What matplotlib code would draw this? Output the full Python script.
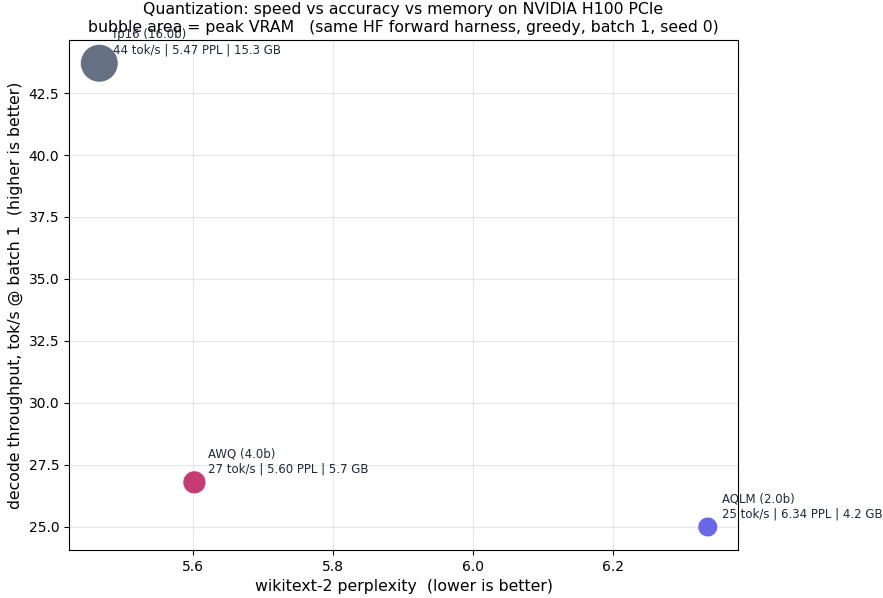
import matplotlib
matplotlib.use("Agg")
import matplotlib.pyplot as plt

# per-method results
names = ["fp16 (16.0b)", "AWQ (4.0b)", "AQLM (2.0b)"]
ppl = [5.466, 5.602, 6.336]
toks = [43.7, 26.8, 25.0]
vram = [15.3, 5.7, 4.2]
colors = ["#5e687c", "#c2306b", "#6160e8"]

fig = plt.figure(figsize=(8.83, 5.98), dpi=100)
ax = fig.add_axes([0.078, 0.080, 0.758, 0.853])

ax.scatter(ppl, toks, s=[v * 48 for v in vram], c=colors, edgecolors="white",
           linewidths=0.5, alpha=0.95, zorder=3)

for n, x, y, v in zip(names, ppl, toks, vram):
    ax.annotate(f"{n}\n{y:.0f} tok/s | {x:.2f} PPL | {v:.1f} GB", (x, y),
                xytext=(10, 5), textcoords="offset points", fontsize=8.5,
                color="#1f2937", va="bottom", ha="left")

ax.grid(True, alpha=0.3)
ax.set_xticks([5.6, 5.8, 6.0, 6.2])
ax.set_xlabel("wikitext-2 perplexity  (lower is better)", fontsize=11.3)
ax.set_ylabel("decode throughput, tok/s @ batch 1  (higher is better)", fontsize=11.3)
ax.set_title("Quantization: speed vs accuracy vs memory on NVIDIA H100 PCIe\n"
             "bubble area = peak VRAM   (same HF forward harness, greedy, batch 1, seed 0)",
             fontsize=11.3)

fig.savefig("out.png", dpi=100)
